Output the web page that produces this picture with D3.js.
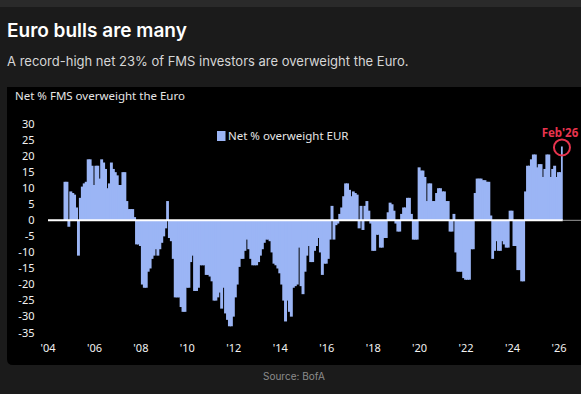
<!DOCTYPE html>
<html>
<head>
<meta charset="utf-8">
<script src="https://cdn.jsdelivr.net/npm/d3@7"></script>
<style>
  html, body { margin: 0; padding: 0; background: #1b1b1b; }
  svg { display: block; }
</style>
</head>
<body>
<div id="chart"></div>
<script>
// monthly readings, first bar is Sep 2004, last is Feb 2026
const startMonth = new Date(2004, 8, 1)
const values = [
  12, 12, -2, 9,                                                      // 2004
  8.5, 8, 4, -11, 7, 10.5, 11.5, 12, 19, 19, 17, 11,                  // 2005
  17, 17, 13, 19, 18, 16, 10, 11.5, 18, 16, 15, 14,                   // 2006
  11, 11, 15, 15, 6, 3.5, 3.5, 3.5, 1, -7.5, -7.5, -8,                // 2007
  -20, -21, -21, -16, -15, -12, -11, -9, -11, -9, -7, -5,             // 2008
  -2.5, 6, -5.5, -6.5, -12, -24, -24, -24, -27, -28.5, -28.5, -21,    // 2009
  -21, -13, -11, -22, -22, -21, -14, -14, -14, -17, -17, -17.5,       // 2010
  -19, -25, -25, -24, -22.5, -27.5, -21, -29, -31, -33, -33, -30,     // 2011
  -24, -20, -14.5, -12, -12, -9.5, -6, -9, -12, -14, -14, -14,        // 2012
  -13, -11, -9, -7, -6, -6, -6.5, -10, -13.5, -14, -15, -16.5,        // 2013
  -20, -25, -31.5, -25, -28.5, -30, -21, -20.5, -20, -8.5, -20.5, -23, // 2014
  -16, -11, -8, -13, -13, -9.5, -8, -5.5, -10, -17, -13.5, -13.5,     // 2015
  -12, -6, 4.5, -6, -1.5, -1, 2, 4, 7.5, 11.5, 11.5, 9.5,             // 2016
  7.5, 9, 8.5, 8, -2.5, 4.5, -3, 4.5, 6, 3, -1, -9.5,                 // 2017
  -9.5, -4.5, -4.5, -8.5, -8.5, -5.5, -5.5, 2.5, 5.5, 5, 3, -1,       // 2018
  -3.5, -3.5, 2, 4, 4, 7, 7, 2, -6, -6, -6, 16.5,                     // 2019
  15.5, 15.5, 13.5, 6, 11.5, 11.5, 6, 6, 8.5, 10, 10, 9,              // 2020
  9, 6, 6, -3.5, -3.5, 2, -10, -16, -16, -16, -18, -18.5,             // 2021
  -18.5, -18.5, -9, -9, 8.5, 13, 13, 13, 12.5, 12.5, 12, 12,          // 2022
  1.5, -12, -9.5, -6.5, -9.5, -9.5, -6.5, -7.5, -8.5, -8.5, 3, 3,     // 2023
  -8, -8, -15.5, -15.5, -19, -19, 9, 17, 17, 19, 20.5, 20.5,          // 2024
  16.5, 17.5, 17.5, 13.5, 16, 20.5, 20.5, 13.5, 16, 17, 13.5, 15,     // 2025
  15, 23                                                              // 2026
]
const yTicks = [30, 25, 20, 15, 10, 5, 0, -5, -10, -15, -20, -25, -30, -35]
const xTickYears = [2004, 2006, 2008, 2010, 2012, 2014, 2016, 2018, 2020, 2022, 2024, 2026]
const xTickLabels = ["'04", "'06", "'08", "'10", "'12", "'14", "'16", "'18", "'20", "'22", "'24", "'26"]
const seriesName = "Net % overweight EUR"
const calloutLabel = "Feb'26"

const data = values.map((v, i) => ({ date: d3.timeMonth.offset(startMonth, i), value: v }))

const width = 581
const height = 394

const svg = d3.select("#chart")
  .append("svg")
    .attr("width", width)
    .attr("height", height)

// page background + top strip
svg.append("rect").attr("width", width).attr("height", height).attr("fill", "#1b1b1b")
svg.append("rect").attr("width", width).attr("height", 7).attr("fill", "#2a2a2a")

svg.append("text")
    .attr("x", 7).attr("y", 36.5)
    .attr("fill", "#ffffff")
    .style("font-family", "Inter, sans-serif")
    .style("font-weight", 600)
    .style("font-size", "19px")
    .text("Euro bulls are many")

svg.append("text")
    .attr("x", 7).attr("y", 65.5)
    .attr("fill", "#d6d6d6")
    .style("font-family", "Inter, sans-serif")
    .style("font-size", "13px")
    .text("A record-high net 23% of FMS investors are overweight the Euro.")

// black chart panel
svg.append("path")
    .attr("d", "M7,87 H581 V365 H13 Q7,365 7,359 Z")
    .attr("fill", "#000000")

svg.append("text")
    .attr("x", 15).attr("y", 100)
    .attr("fill", "#e6e6e6")
    .style("font-family", "'Noto Sans', sans-serif")
    .style("font-size", "11.5px")
    .text("Net % FMS overweight the Euro")

const x = d3.scaleTime()
    .domain([new Date(2004, 0, 1), new Date(2026, 0, 1)])
    .range([48, 559])

const y = d3.scaleLinear()
    .domain([-35, 30])
    .range([332.7, 124])

// y labels
svg.append("g")
  .selectAll("text")
  .data(yTicks)
  .join("text")
    .attr("x", 34.5)
    .attr("y", d => y(d))
    .attr("dy", "0.35em")
    .attr("text-anchor", "end")
    .attr("fill", "#f2f2f2")
    .style("font-family", "'Noto Sans', sans-serif")
    .style("font-size", "11px")
    .text(d => d)

// x labels
svg.append("g")
  .selectAll("text")
  .data(xTickYears)
  .join("text")
    .attr("x", d => x(new Date(d, 0, 1)))
    .attr("y", 352)
    .attr("text-anchor", "middle")
    .attr("fill", "#f2f2f2")
    .style("font-family", "'Noto Sans', sans-serif")
    .style("font-size", "11px")
    .text((d, i) => xTickLabels[i])

// bars - a bit of overlap so no seams show between months
svg.append("g")
  .selectAll("rect")
  .data(data)
  .join("rect")
    .attr("x", d => x(d.date))
    .attr("width", (d, i) => x(d3.timeMonth.offset(d.date, 1)) - x(d.date) + (i < data.length - 1 ? 1 : 0))
    .attr("y", d => y(Math.max(0, d.value)))
    .attr("height", d => Math.abs(y(d.value) - y(0)))
    .attr("fill", "#9bb5f5")

// zero line
const lastEnd = x(d3.timeMonth.offset(data[data.length - 1].date, 1))
svg.append("line")
    .attr("x1", lastEnd).attr("x2", 581)
    .attr("y1", y(0)).attr("y2", y(0))
    .attr("stroke", "#9a9a9a")
    .attr("stroke-width", 1)
svg.append("line")
    .attr("x1", x(new Date(2004, 0, 1))).attr("x2", lastEnd)
    .attr("y1", y(0)).attr("y2", y(0))
    .attr("stroke", "#ffffff")
    .attr("stroke-width", 2)

// legend
svg.append("rect")
    .attr("x", 217).attr("y", 131)
    .attr("width", 8.5).attr("height", 10)
    .attr("fill", "#9bb5f5")
svg.append("text")
    .attr("x", 228).attr("y", 140)
    .attr("fill", "#e6e6e6")
    .style("font-family", "'Noto Sans', sans-serif")
    .style("font-size", "11.5px")
    .text(seriesName)

// feb'26 callout
const last = data[data.length - 1]
const cx = x(last.date) + 1
svg.append("circle")
    .attr("cx", cx)
    .attr("cy", y(last.value) + 1)
    .attr("r", 8)
    .attr("fill", "none")
    .attr("stroke", "#e8344e")
    .attr("stroke-width", 2)
svg.append("text")
    .attr("x", cx - 2).attr("y", 137)
    .attr("text-anchor", "middle")
    .attr("fill", "#e8344e")
    .style("font-family", "'Noto Sans', sans-serif")
    .style("font-weight", 700)
    .style("font-size", "11.5px")
    .text(calloutLabel)

svg.append("text")
    .attr("x", 263).attr("y", 380)
    .attr("fill", "#8c8c8c")
    .style("font-family", "Inter, sans-serif")
    .style("font-size", "10px")
    .text("Source: BofA")
</script>
</body>
</html>
